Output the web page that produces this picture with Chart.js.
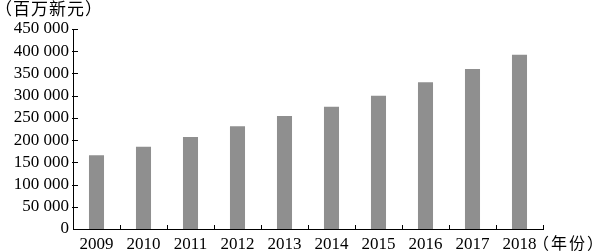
<!DOCTYPE html>
<html>
<head>
<meta charset="utf-8">
<script src="https://cdn.jsdelivr.net/npm/chart.js@4/dist/chart.umd.min.js"></script>
<style>
  html, body { margin: 0; padding: 0; background: #ffffff; }
  #wrap { width: 599px; height: 252px; }
</style>
</head>
<body>
<div id="wrap"><canvas id="c" width="599" height="252"></canvas></div>
<script>
const years = ['2009', '2010', '2011', '2012', '2013', '2014', '2015', '2016', '2017', '2018'];
const values = [166000, 185000, 207000, 231000, 254000, 275000, 300000, 330000, 360000, 392000];
const yUnitLabel = '（百万新元）';
const xUnitLabel = '（年份）';
const yMax = 450000;
const yStep = 50000;

const serif = '"Liberation Serif", "DejaVu Serif", serif';
const cjk = '"Noto Sans CJK SC", sans-serif';

function fmt(v) {
  return String(v).replace(/\B(?=(\d{3})+(?!\d))/g, ' ');
}

const innerTicks = {
  id: 'innerTicks',
  afterDraw(chart) {
    const ctx = chart.ctx;
    const xs = chart.scales.x, ys = chart.scales.y;
    ctx.save();
    ctx.strokeStyle = '#000';
    ctx.lineWidth = 1;
    ys.ticks.forEach(t => {
      if (t.value === 0) return;
      const py = Math.round(ys.getPixelForValue(t.value)) + 0.5;
      ctx.beginPath();
      ctx.moveTo(xs.left - 1, py);
      ctx.lineTo(xs.left + 5, py);
      ctx.stroke();
    });
    const n = years.length;
    const w = (xs.right - xs.left) / n;
    for (let i = 1; i <= n; i++) {
      const px = Math.round(xs.left + i * w) + 0.5;
      ctx.beginPath();
      ctx.moveTo(px, ys.bottom);
      ctx.lineTo(px, ys.bottom - 4);
      ctx.stroke();
    }
    ctx.fillStyle = '#000';
    ctx.textBaseline = 'alphabetic';
    ctx.textAlign = 'left';
    ctx.font = '17px ' + cjk;
    ctx.letterSpacing = '1px';
    ctx.fillText(yUnitLabel, -5, 15);
    ctx.font = '16px ' + cjk;
    ctx.letterSpacing = '2px';
    ctx.fillText(xUnitLabel, xs.right - 10, 249);
    ctx.restore();
  }
};

new Chart(document.getElementById('c'), {
  type: 'bar',
  data: {
    labels: years,
    datasets: [{
      data: values,
      backgroundColor: '#8f8f8f',
      borderWidth: 0,
      barPercentage: 0.32,
      categoryPercentage: 1.0
    }]
  },
  options: {
    responsive: false,
    animation: false,
    devicePixelRatio: 1,
    layout: { padding: { top: 29, right: 56, bottom: 0, left: 0 } },
    plugins: { legend: { display: false }, tooltip: { enabled: false }, title: { display: false } },
    scales: {
      x: {
        offset: true,
        grid: { display: false, drawTicks: false },
        border: { display: true, color: '#000', width: 1 },
        ticks: { color: '#000', font: { family: serif, size: 17 }, padding: 5, maxRotation: 0, autoSkip: false },
        afterFit(scale) { scale.height = 23; }
      },
      y: {
        min: 0,
        max: yMax,
        grid: { display: false, drawTicks: false },
        border: { display: true, color: '#000', width: 1 },
        ticks: {
          stepSize: yStep,
          autoSkip: false,
          color: '#000',
          font: { family: serif, size: 17 },
          padding: 4,
          callback: v => fmt(v)
        },
        afterFit(scale) { scale.width = 73; }
      }
    }
  },
  plugins: [innerTicks]
});
</script>
</body>
</html>
